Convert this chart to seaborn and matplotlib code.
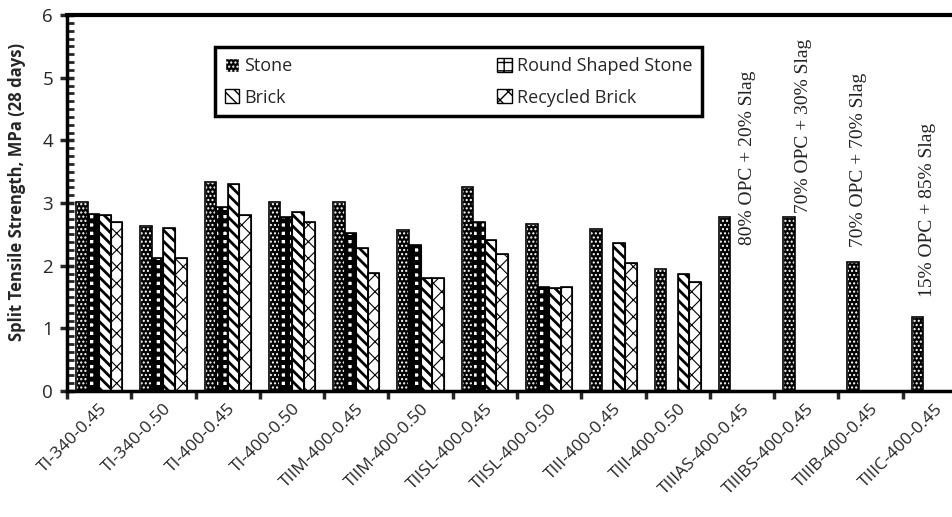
import numpy as np
import pandas as pd
import seaborn as sns
import matplotlib.pyplot as plt
from matplotlib.patches import Patch, Rectangle
from matplotlib.ticker import MultipleLocator, FixedLocator

mixes = ["TI-340-0.45", "TI-340-0.50", "TI-400-0.45", "TI-400-0.50",
         "TIIM-400-0.45", "TIIM-400-0.50", "TIISL-400-0.45", "TIISL-400-0.50",
         "TIII-400-0.45", "TIII-400-0.50", "TIIIAS-400-0.45", "TIIIBS-400-0.45",
         "TIIIB-400-0.45", "TIIIC-400-0.45"]
nan = np.nan
stone = [3.01, 2.63, 3.33, 3.01, 3.01, 2.57, 3.25, 2.66, 2.58, 1.94, 2.77, 2.77, 2.06, 1.18]
round_stone = [2.83, 2.13, 2.93, 2.78, 2.52, 2.33, 2.70, 1.66, nan, nan, nan, nan, nan, nan]
brick = [2.81, 2.60, 3.30, 2.85, 2.29, 1.80, 2.41, 1.65, 2.36, 1.86, nan, nan, nan, nan]
recycled_brick = [2.69, 2.13, 2.81, 2.70, 1.88, 1.80, 2.19, 1.66, 2.04, 1.74, nan, nan, nan, nan]
aggregates = ["Stone", "Round Shaped Stone", "Brick", "Recycled Brick"]
notes = ["80% OPC + 20% Slag", "70% OPC + 30% Slag", "70% OPC + 70% Slag", "15% OPC + 85% Slag"]

df = pd.DataFrame({"mix": mixes, "Stone": stone, "Round Shaped Stone": round_stone,
                   "Brick": brick, "Recycled Brick": recycled_brick})
df = df.melt(id_vars="mix", var_name="aggregate", value_name="strength").dropna()

sns.set_style("white")
plt.rcParams['font.family'] = ['Open Sans', 'DejaVu Sans']

fig = plt.figure(figsize=(9.53, 5.17), dpi=100)
ax = fig.add_axes([0.0703, 0.2437, 0.9444, 0.727])

sns.barplot(data=df, x="mix", y="strength", hue="aggregate", order=mixes,
            hue_order=aggregates, width=0.72, errorbar=None, legend=False, ax=ax)

# hatch styles per aggregate: (face, edge, hatch, hatch linewidth)
styles = [("black", "white", "....", 1.0),
          ("white", "black", "++", 3.6),
          ("white", "black", "\\\\\\", 2.0),
          ("white", "black", "xx", 0.8)]

for cont, (fc, ec, h, hlw) in zip(ax.containers, styles):
    for p in cont:
        if not np.isfinite(p.get_height()):
            continue
        p.set_facecolor(fc)
        p.set_edgecolor(ec)
        p.set_hatch(h)
        p.set_linewidth(0.8)
        if hasattr(p, "set_hatch_linewidth"):
            p.set_hatch_linewidth(hlw)
        ax.add_patch(Rectangle((p.get_x(), 0), p.get_width(), p.get_height(),
                               fill=False, edgecolor="black", linewidth=1.2, zorder=3))

# side notes for slag mixes
note_pos = [(10.08, 2.33), (10.95, 2.84), (11.81, 2.30), (12.88, 1.50)]
for (xn, yn), t in zip(note_pos, notes):
    ax.text(xn, yn, t, rotation=90, ha="center", va="bottom", fontsize=14,
            family="Liberation Serif", color="#222222")

ax.set_xlim(-0.5, len(mixes) - 0.5)
ax.set_ylim(0, 6)
ax.yaxis.set_major_locator(MultipleLocator(1))
ax.yaxis.set_minor_locator(MultipleLocator(0.125))
ax.xaxis.set_minor_locator(FixedLocator(np.arange(-0.5, len(mixes), 1.0)))
ax.tick_params(axis="y", which="major", direction="inout", length=10, width=2.5,
               labelsize=13.5, left=True, pad=5)
ax.tick_params(axis="y", which="minor", direction="in", length=5, width=2, left=True)
ax.tick_params(axis="x", which="major", length=0, labelsize=12.5, pad=7)
ax.tick_params(axis="x", which="minor", direction="out", length=6, width=2.5, bottom=True)
plt.setp(ax.get_xticklabels(), rotation=45, ha="right", rotation_mode="anchor")

for side in ["left", "bottom", "top", "right"]:
    ax.spines[side].set_visible(True)
    ax.spines[side].set_color("black")
ax.spines["left"].set_linewidth(2.5)
ax.spines["bottom"].set_linewidth(2.5)
ax.spines["top"].set_linewidth(3)
ax.spines["right"].set_linewidth(3)

ax.set_xlabel("")
ax.set_ylabel("Split Tensile Strength, MPa (28 days)", fontsize=12, fontweight="bold")
ax.yaxis.set_label_coords(-0.045, 0.53)

handles = []
for (fc, ec, h, hlw), lab in zip(styles, aggregates):
    hp = Patch(facecolor=fc, edgecolor=ec, hatch=h, label=lab)
    handles.append(hp)
order = [0, 2, 1, 3]
leg = ax.legend([handles[i] for i in order], [aggregates[i] for i in order],
                ncol=2, loc="upper left", bbox_to_anchor=(0.164, 0.915, 0.542, 0.0),
                mode="expand", borderaxespad=0, fontsize=13, frameon=True,
                fancybox=False, edgecolor="black", framealpha=1,
                handlelength=0.8, handleheight=0.8, handletextpad=0.3,
                labelspacing=0.75, borderpad=0.55)
leg.get_frame().set_linewidth(2.5)

fig.savefig("out.png", dpi=100)
